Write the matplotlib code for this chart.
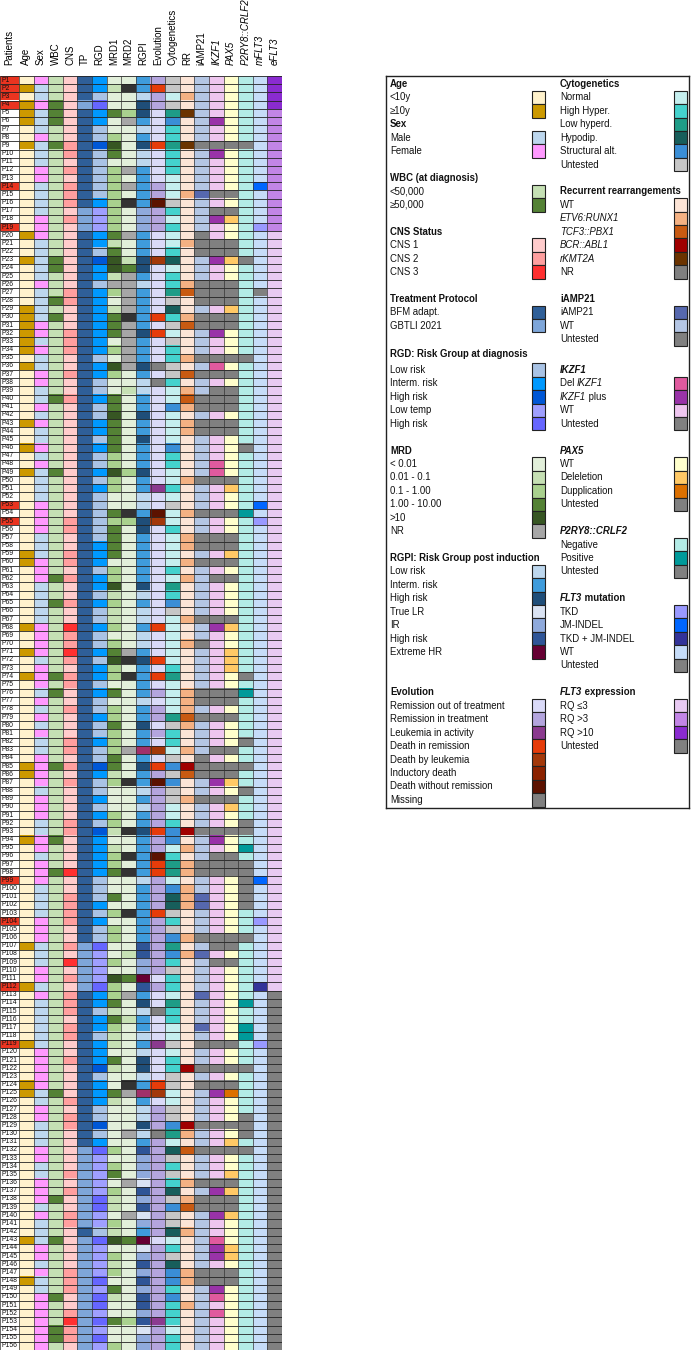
import numpy as np
import matplotlib
matplotlib.use('Agg')
import matplotlib.pyplot as plt
from matplotlib.colors import to_rgb
from matplotlib.patches import Rectangle

plt.rcParams['font.family'] = ['Liberation Sans', 'DejaVu Sans']

# ---------------------------------------------------------------- data
patients = ['P%d' % i for i in range(1, 157)]
highlight = ['P1', 'P2', 'P3', 'P4', 'P14', 'P19', 'P53', 'P55', 'P99', 'P104', 'P112', 'P119']

# one code per patient (10 patients per chunk)
age = ("yoyoooyyoy" "yyyyyyyyyo" "yyoyyyyyoo" "ooooyoyyyy" "yyoyyoyyoy" "yyyyyyyyoo" "yyyyyyyoyy" "oyyoyyyyyy"
       "yyyyooyyyy" "yyyoyyyyyy" "yyyyyyoyyy" "yoyyyyyyoy" "yyyooyyyyy" "yyyyyyyyyy" "yyoyyyyoyy" "yyyyyy")
sex = ("fmmfmmmfmm" "mffmmmmfff" "mmmmmfmmmm" "ffmfmmffmm" "fmfmmfmfmm" "mmffffmmmf" "ffmmmmmfff" "fmfffmfmfm"
       "fmmffffmff" "fmmffmfffm" "mmmfffmmmf" "fmfmmmmmmf" "ffffmmffmm" "mffmmfffmf" "mmmffmfmmf" "ffffff")
wbc = ("lllhhhllhl" "llllllllll" "llhhlllhlh" "lllllllllh" "llllllllhl" "llllllllll" "lhllhlllll" "lllhlhllll"
       "llllhlllll" "lllhlllhll" "llllllllll" "llllllllll" "llllhlllll" "lllllllhll" "llhllllllh" "lllhhl")
cns = ("1111111122" "1212221211" "1111112211" "1222112112" "1111111111" "1111221122" "1211211322" "3212211211"
       "1221212111" "1221111311" "2222112131" "2122212211" "2111121221" "1111212112" "2111112221" "123221")
tp = ("bbbgbbbbbb" "bbbbbbgggb" "bbbbbbbbbb" "bbbbbbbbbb" "bbbbbbbbbb" "bbbbbbbbbb" "bbbbbbbbbb" "bbbbbbbbbb"
      "bbbbbbbbbb" "bbbbbbbbbb" "bbbbbbgggg" "ggbbbbbbbb" "bbbbbbbbbb" "bggggggggg" "gbgggggggg" "gggggg")
rgd = ("IILRIILLHL" "LLLLLITTTI" "ILHIILIIII" "IIIILIILLI" "LLIILILLIL" "ILLLLLLIII" "LIILILLILL" "ILIILILLIL"
       "LILLHILLIL" "ILHIIIIILL" "LILILLRTTT" "TRIILIILII" "IHLIIILLHL" "IRTTTTTRRT" "TLRTTTTRTR" "RTRTRT")
mrd1 = ("0100300243" "0222222223" "13441N2013" "3302042003" "3433332242" "2003233330" "2241211202" "3422030223"
        "2223312000" "2210122300" "3020220020" "4223132110" "3100310000" "0202302110" "2140212031" "003002")
mrd2 = ("0K002N0000" "0N0N0K000N" "0013NNNNNK" "NNNNNN0010" "0000000020" "000K200000" "0000000000" "NK0K000000"
        "00N000K000" "00K00K0K00" "00K0000100" "30N0010000" "000KN0000N" "00000N000N" "0030000000" "002000")
rgpi = ("IILHHILIHL" "LIIIIIMMMI" "IIHHILIIII" "IHIIIHILLI" "IHIIHIIIHI" "ILLIHHIIII" "IIHLILLILL" "IHIIIILIIH"
        "IIYIHIILIL" "IIHIIIIILI" "IIIIIIRRMM" "XRIHLIILIL" "HHLIYILLHL" "IRMMMTRMRT" "MIXTMRMRMR" "RMRTMM")
evo = ("TDTTOOOODO" "OOOTTWTTTO" "OOLOOOOOOD" "ODOOOMOMOO" "OOOOOOOOOO" "AOOWLOOOOO" "OOOOOOODOO" "ODODOTOTTO"
       "TOLODTWTTT" "TTDTTWDDTT" "TTDTTTTTTT" "OTOOMOOOAO" "OOODLOTTTM" "TTTTTTTTTT" "TTOTTTTTTT" "TTATTT")
cyto = ("UUNULSHHLH" "HHNNNUHNHN" "NHPNHHLUPH" "UNUHHUUHNN" "SNNNNSHHNN" "HNUNNHNNNN" "HNLHSUNNNN" "NNHLNNNNLU"
        "HHNUSUSUUN" "NHSSNHLLNS" "PPUHUSLSHU" "HHNLHHNNUN" "HHUUNNUUSL" "NPUHUHPUSU" "UPNHUPSSHS" "HHHNHH")
rr = ("WWEWKWWWKW" "WWWWEWWWWW" "EWWWWETWWE" "TWWWEWTWET" "EWEEWWWWWE" "WWWEWWEEWE" "WEWWWWEWWE" "WWWWWEEETE"
      "WWEWBTWWEW" "WWBWEWEEWE" "EEWWWEWEWW" "WWWWWWWWWW" "WBWWWWWWBE" "WTWWWEWETW" "WEWWWWEEWW" "EWWWWW")
iamp = ("WWWWWWWWUW" "WWWWAWWWWU" "UUWWWUUUWU" "UWWWUWUWWU" "UWUUWWWWWU" "WWWUWWUUWU" "WWWWWWUWWU" "WWWWWUUWUW"
        "WWWUUUWWUW" "WWUWWWUUWW" "AAWWWUWAWW" "WWAWWWAWUW" "WUWUWWWWUW" "WUWWWUWUUW" "WWWWWWUUWW" "WWWWWW")
ikzf1 = ("WWWWWPWWUP" "WWWWUWUPWW" "UUPWWUUUWU" "UPWWUDUWUU" "UWUUWWWDDU" "WWWUWWUUWU" "WUWWWWUPWW" "WWWWWUUWUW"
         "WWUWUUPWUW" "WWUPWUUUWW" "WWWWWUUWUW" "WWWWWWWWUW" "WUWUPWWWUW" "WUWWWUPUUP" "WWDPPWUUPD" "WDWWWW")
pax5 = ("WWWWWWWWUW" "WWWWUWUDWW" "UUDWWUUUDU" "UWWWUWUWUU" "UWUUWWWWWU" "DWWUWWUUDU" "WUWWWWUDWW" "DDDWWUUWUW"
        "WWUWUUDWUD" "WWUWWUUUWW" "WWWWWUUWUW" "WWWWWWWWUW" "WUWUPWWWUW" "DUWWDUDUUD" "WWWDDWUUWW" "WWWWWW")
p2ry8 = ("NNNNNNNNUN" "NNNNNNNNNN" "NNUNNNNNNN" "NNNNUNNNNN" "NNNNNUNNNN" "NNNPNNNNNN" "NNNNNNNNNN" "NNNUNPNNNN"
         "NUNNUNNUNN" "NUUNPNUUUU" "UUNNNUNNNN" "NNNPNNPPNN" "NUNNNNNUUU" "NUNNNNNNNN" "NNNNNNNNNN" "NNNNNN")
mflt3 = ("WWWWWWWWWW" "WWWJWWWWTW" "WWWWWWUWWW" "WWWWWWWWWW" "WWWWWWWWWW" "WWJWTWWWWW" "WWWWWWWWWW" "WWWWWWWWWW"
         "WWWWWWWWWW" "WWWWWWWWJW" "WWWTWWWWWW" "WBWWWWWWTW" "WWWWWWWWWW" "WWWWWWWWWW" "WWWWWWWWWW" "WWWWWW")
eflt3 = ("3333222222" "2222222221" "1111111111" "1111111111" "1111111111" "1111111111" "1111111111" "1111111111"
         "1111111111" "1111111111" "1111111111" "11UUUUUUUU" "UUUUUUUUUU" "UUUUUUUUUU" "UUUUUUUUUU" "UUUUUU")

# ---------------------------------------------------------------- palettes (code -> label, colour)
GREY = '#808080'
pal_age = {'y': ('<10y', '#FFF2CC'), 'o': ('≥10y', '#CC9900')}
pal_sex = {'m': ('Male', '#BDD7EE'), 'f': ('Female', '#FF99FF')}
pal_wbc = {'l': ('<50,000', '#C5E0B4'), 'h': ('≥50,000', '#548235')}
pal_cns = {'1': ('CNS 1', '#FFCCCC'), '2': ('CNS 2', '#FF9F9F'), '3': ('CNS 3', '#FF3030')}
pal_tp = {'b': ('BFM adapt.', '#2F5F98'), 'g': ('GBTLI 2021', '#7EA6D9')}
pal_rgd = {'L': ('Low risk', '#A9C3E5'), 'I': ('Interm. risk', '#0099FF'), 'H': ('High risk', '#0057D6'),
           'T': ('Low temp', '#9F9FFF'), 'R': ('High risk', '#6666FF')}
pal_mrd = {'0': ('< 0.01', '#E2EFDA'), '1': ('0.01 - 0.1', '#C6E0B4'), '2': ('0.1 - 1.00', '#A9D18E'),
           '3': ('1.00 - 10.00', '#548235'), '4': ('>10', '#375623'), 'N': ('NR', '#A6A6A6'),
           'K': (None, '#333333')}
pal_rgpi = {'L': ('Low risk', '#BDD7EE'), 'I': ('Interm. risk', '#3F9CDC'), 'H': ('High risk', '#1F4E79'),
            'T': ('True LR', '#DAE3F3'), 'M': ('IR', '#8FAADC'), 'R': ('High risk', '#2F5597'),
            'X': ('Extreme HR', '#660033'), 'Y': (None, '#A0306A')}
pal_evo = {'O': ('Remission out of treatment', '#DADAF8'), 'T': ('Remission in treatment', '#B4A5DE'),
           'A': ('Leukemia in activity', '#8B3A8F'), 'D': ('Death in remission', '#E63C0A'),
           'L': ('Death by leukemia', '#A3380A'), 'I': ('Inductory death', '#8B2200'),
           'W': ('Death without remission', '#5C1200'), 'M': ('Missing', GREY)}
pal_cyto = {'N': ('Normal', '#C5EFEF'), 'H': ('High Hyper.', '#44D2CD'), 'L': ('Low hyperd.', '#1E9C87'),
            'P': ('Hypodip.', '#175E5B'), 'S': ('Structural alt.', '#3A8ED6'), 'U': ('Untested', '#C6C6C6')}
pal_rr = {'W': ('WT', '#FCE4D6'), 'E': ('ETV6:RUNX1', '#F4B183'), 'T': ('TCF3::PBX1', '#C85A12'),
          'B': ('BCR::ABL1', '#A00000'), 'K': ('rKMT2A', '#6B3300'), 'N': ('NR', GREY)}
pal_iamp = {'A': ('iAMP21', '#5668AE'), 'W': ('WT', '#B4C6E4'), 'U': ('Untested', GREY)}
pal_ikzf1 = {'D': ('Del |IKZF1', '#E05A9E'), 'P': ('|IKZF1| plus', '#9933A8'), 'W': ('WT', '#EEC6EF'),
             'U': ('Untested', GREY)}
pal_pax5 = {'W': ('WT', '#FFFFCC'), 'D': ('Deleletion', '#FFC966'), 'P': ('Dupplication', '#DC7000'),
            'U': ('Untested', GREY)}
pal_p2ry8 = {'N': ('Negative', '#B3EBE6'), 'P': ('Positive', '#009A9A'), 'U': ('Untested', GREY)}
pal_mflt3 = {'T': ('TKD', '#9999FF'), 'J': ('JM-INDEL', '#0066FF'), 'B': ('TKD + JM-INDEL', '#333399'),
             'W': ('WT', '#C6DCF8'), 'U': ('Untested', GREY)}
pal_eflt3 = {'1': ('RQ ≤3', '#E8CAF2'), '2': ('RQ >3', '#C285E6'), '3': ('RQ >10', '#8A2BD0'),
             'U': ('Untested', GREY)}

columns = [('Age', age, pal_age, False), ('Sex', sex, pal_sex, False), ('WBC', wbc, pal_wbc, False),
           ('CNS', cns, pal_cns, False), ('TP', tp, pal_tp, False), ('RGD', rgd, pal_rgd, False),
           ('MRD1', mrd1, pal_mrd, False), ('MRD2', mrd2, pal_mrd, False), ('RGPI', rgpi, pal_rgpi, False),
           ('Evolution', evo, pal_evo, False), ('Cytogenetics', cyto, pal_cyto, False), ('RR', rr, pal_rr, False),
           ('iAMP21', iamp, pal_iamp, False), ('IKZF1', ikzf1, pal_ikzf1, True), ('PAX5', pax5, pal_pax5, True),
           ('P2RY8::CRLF2', p2ry8, pal_p2ry8, True), ('mFLT3', mflt3, pal_mflt3, True),
           ('eFLT3', eflt3, pal_eflt3, True)]

n = len(patients)
for name, codes, pal, _ in columns:
    assert len(codes) == n, (name, len(codes))

# ---------------------------------------------------------------- heatmap
fig = plt.figure(figsize=(6.92, 13.5), dpi=100)
ax = fig.add_axes([0, 0, 282 / 692, 1274 / 1350])
pw = 19 / 14.61  # width of the patient label column, in cell units

img = np.array([[to_rgb(pal[codes[r]][1]) for _, codes, pal, _ in columns] for r in range(n)])
ax.imshow(img, extent=(0, len(columns), n, 0), aspect='auto', interpolation='nearest')

red_rows = [patients.index(p) for p in highlight]
ax.barh(np.array(red_rows) + 0.5, pw, left=-pw, height=1, color='#EA3420')
for r, p in enumerate(patients):
    ax.text(-pw + 0.12, r + 0.5, p, fontsize=4.9, va='center', ha='left', color='#111111')

ax.hlines(np.arange(n + 1), -pw, len(columns), color='#222222', lw=0.6)
ax.vlines(np.arange(len(columns) + 1), 0, n, color='#333333', lw=0.5)
ax.vlines([-pw], 0, n, color='#333333', lw=0.5)

ax.text(-pw / 2, -1.3, 'Patients', rotation=90, ha='center', va='bottom', fontsize=7.0)
for j, (name, _, _, it) in enumerate(columns):
    ax.text(j + 0.5, -1.3, name, rotation=90, ha='center', va='bottom', fontsize=7.0,
            style='italic' if it else 'normal', clip_on=False)

ax.set_xlim(-pw, len(columns))
ax.set_ylim(n, 0)
ax.axis('off')

# ---------------------------------------------------------------- legend
lax = fig.add_axes([386 / 692, 1 - 808 / 1350, 303 / 692, 732 / 1350])
lax.set_xlim(0, 303)
lax.set_ylim(732, 0)
lax.set_xticks([])
lax.set_yticks([])
for s in lax.spines.values():
    s.set_linewidth(1.0)
    s.set_color('#222222')

step = 13.43


def y_of(i):
    return 8 + i * step + (4 if i >= 21 else 1.5 if i == 20 else 0)


def rich(x, y, label, bold=False, italic=False):
    # '|' separates segments that toggle italic
    parts = label.split('|')
    prev = None
    for k, seg in enumerate(parts):
        if seg == '':
            continue
        it = italic ^ (k % 2 == 1)
        kw = dict(fontsize=6.9, fontweight='bold' if bold else 'normal',
                  style='italic' if it else 'normal', color='#111111')
        if prev is None:
            prev = lax.text(x, y, seg, va='center', ha='left', **kw)
        else:
            prev = lax.annotate(seg, xy=(1, 0), xycoords=prev, va='bottom', ha='left', **kw)


def block(x_text, x_sw, start, title, pal, title_italic=False, item_italic=False):
    rich(x_text, y_of(start), title, bold=True, italic=title_italic)
    k = start + 1
    for code, (lab, col) in pal.items():
        if lab is None:
            continue
        y = y_of(k)
        rich(x_text, y, lab, italic=item_italic)
        lax.add_patch(Rectangle((x_sw, y - step / 2), 13, step, fc=col, ec='#222222', lw=0.8))
        k += 1


LX, LS = 4, 146
RX, RS = 174, 288

# left column
block(LX, LS, 0, 'Age', pal_age)
block(LX, LS, 3, 'Sex', pal_sex)
block(LX, LS, 7, 'WBC (at diagnosis)', pal_wbc)
block(LX, LS, 11, 'CNS Status', pal_cns)
block(LX, LS, 16, 'Treatment Protocol', pal_tp)
block(LX, LS, 20, 'RGD: Risk Group at diagnosis', pal_rgd)
block(LX, LS, 27, 'MRD', pal_mrd)
block(LX, LS, 35, 'RGPI: Risk Group post induction', pal_rgpi)
block(LX, LS, 45, 'Evolution', pal_evo)

# right column
block(RX, RS, 0, 'Cytogenetics', pal_cyto)
rich(RX, y_of(8), 'Recurrent rearrangements', bold=True)
for k, (code, (lab, col)) in enumerate(pal_rr.items()):
    y = y_of(9 + k)
    rich(RX, y, lab, italic=lab not in ('WT', 'NR'))
    lax.add_patch(Rectangle((RS, y - step / 2), 13, step, fc=col, ec='#222222', lw=0.8))
block(RX, RS, 16, 'iAMP21', pal_iamp)
block(RX, RS, 21, 'IKZF1', pal_ikzf1, title_italic=True)
block(RX, RS, 27, 'PAX5', pal_pax5, title_italic=True)
block(RX, RS, 33, 'P2RY8::CRLF2', pal_p2ry8, title_italic=True)
block(RX, RS, 38, '|FLT3| mutation', pal_mflt3)
block(RX, RS, 45, '|FLT3| expression', pal_eflt3)

fig.savefig('out.png', dpi=100)
